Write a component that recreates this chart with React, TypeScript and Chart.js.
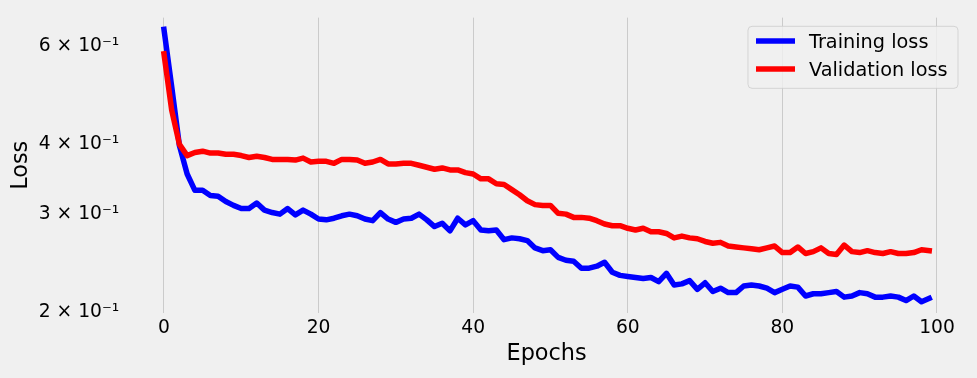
import React, { useEffect, useRef } from "react";
import { Chart, registerables } from "chart.js";

Chart.register(...registerables);

const epochs: number[] = Array.from({ length: 100 }, (_, i) => i);

const trainingLoss: number[] = [
  0.643, 0.508, 0.398, 0.354, 0.331, 0.331, 0.324, 0.323, 0.316, 0.311,
  0.307, 0.307, 0.314, 0.305, 0.302, 0.300, 0.307, 0.299, 0.305, 0.300,
  0.294, 0.293, 0.295, 0.298, 0.300, 0.298, 0.294, 0.292, 0.302, 0.294,
  0.290, 0.294, 0.295, 0.300, 0.293, 0.285, 0.289, 0.280, 0.295, 0.287,
  0.292, 0.281, 0.280, 0.281, 0.270, 0.272, 0.271, 0.269, 0.261, 0.258,
  0.259, 0.251, 0.248, 0.247, 0.240, 0.240, 0.242, 0.246, 0.236, 0.233,
  0.232, 0.231, 0.230, 0.231, 0.227, 0.235, 0.224, 0.225, 0.228, 0.220,
  0.226, 0.218, 0.221, 0.217, 0.217, 0.223, 0.224, 0.223, 0.221, 0.217,
  0.220, 0.223, 0.222, 0.214, 0.216, 0.216, 0.217, 0.218, 0.213, 0.214,
  0.217, 0.216, 0.213, 0.213, 0.214, 0.213, 0.210, 0.214, 0.209, 0.212,
];

const validationLoss: number[] = [
  0.581, 0.461, 0.400, 0.382, 0.387, 0.389, 0.386, 0.386, 0.384, 0.384,
  0.382, 0.379, 0.381, 0.379, 0.376, 0.376, 0.376, 0.375, 0.378, 0.372,
  0.373, 0.373, 0.370, 0.376, 0.376, 0.375, 0.370, 0.372, 0.376, 0.369,
  0.369, 0.370, 0.370, 0.367, 0.364, 0.361, 0.363, 0.360, 0.360, 0.356,
  0.354, 0.347, 0.347, 0.340, 0.339, 0.332, 0.325, 0.317, 0.312, 0.311,
  0.311, 0.301, 0.300, 0.296, 0.296, 0.295, 0.292, 0.288, 0.286, 0.286,
  0.283, 0.281, 0.283, 0.279, 0.279, 0.277, 0.272, 0.274, 0.272, 0.271,
  0.268, 0.266, 0.267, 0.263, 0.262, 0.261, 0.260, 0.259, 0.261, 0.263,
  0.256, 0.256, 0.262, 0.255, 0.257, 0.261, 0.255, 0.254, 0.264, 0.257,
  0.256, 0.258, 0.256, 0.255, 0.257, 0.255, 0.255, 0.256, 0.259, 0.258,
];

const xTicks: number[] = [0, 20, 40, 60, 80, 100];
const yTicks: number[] = [0.2, 0.3, 0.4, 0.6];
const yTickLabels: string[] = ["2 × 10⁻¹", "3 × 10⁻¹", "4 × 10⁻¹", "6 × 10⁻¹"];

const FONT = '"DejaVu Sans", sans-serif';
const TICK_SIZE = 18.7;
const LEGEND_SIZE = 19.3;
const LABEL_SIZE = 22.4;

const legendPlugin = {
  id: "mplLegend",
  afterDatasetsDraw(chart: any) {
    const { ctx, chartArea } = chart;
    const w = 210;
    const h = 62;
    const right = chartArea.right - 9.5;
    const top = chartArea.top + 8.7;
    const left = right - w;
    const r = 4;
    ctx.save();
    ctx.beginPath();
    ctx.moveTo(left + r, top);
    ctx.lineTo(left + w - r, top);
    ctx.arcTo(left + w, top, left + w, top + r, r);
    ctx.lineTo(left + w, top + h - r);
    ctx.arcTo(left + w, top + h, left + w - r, top + h, r);
    ctx.lineTo(left + r, top + h);
    ctx.arcTo(left, top + h, left, top + h - r, r);
    ctx.lineTo(left, top + r);
    ctx.arcTo(left, top, left + r, top, r);
    ctx.closePath();
    ctx.fillStyle = "rgba(240,240,240,0.8)";
    ctx.fill();
    ctx.strokeStyle = "rgba(204,204,204,0.8)";
    ctx.lineWidth = 1;
    ctx.stroke();
    chart.data.datasets.forEach((ds: any, i: number) => {
      const y = top + 14.6 + i * 28;
      ctx.beginPath();
      ctx.moveTo(left + 8, y);
      ctx.lineTo(left + 47, y);
      ctx.strokeStyle = ds.borderColor;
      ctx.lineWidth = 5.5;
      ctx.lineCap = "butt";
      ctx.stroke();
      ctx.fillStyle = "#000";
      ctx.font = `${LEGEND_SIZE}px ${FONT}`;
      ctx.textBaseline = "alphabetic";
      ctx.textAlign = "left";
      ctx.fillText(ds.label, left + 61, y + 6.8);
    });
    ctx.restore();
  },
};

export default function App() {
  const canvasRef = useRef<HTMLCanvasElement | null>(null);

  useEffect(() => {
    document.body.style.margin = "0";
    document.body.style.background = "#f0f0f0";
    const canvas = canvasRef.current;
    if (!canvas) return;
    Chart.defaults.font.family = FONT;
    Chart.defaults.color = "#000";

    const chart = new Chart(canvas, {
      type: "line",
      data: {
        datasets: [
          {
            label: "Training loss",
            data: epochs.map((e, i) => ({ x: e, y: trainingLoss[i] })),
            borderColor: "#0000ff",
            backgroundColor: "#0000ff",
            borderWidth: 5.5,
            pointRadius: 0,
            tension: 0,
            borderJoinStyle: "round",
            borderCapStyle: "square",
            order: 1,
          },
          {
            label: "Validation loss",
            data: epochs.map((e, i) => ({ x: e, y: validationLoss[i] })),
            borderColor: "#ff0000",
            backgroundColor: "#ff0000",
            borderWidth: 5.5,
            pointRadius: 0,
            tension: 0,
            borderJoinStyle: "round",
            borderCapStyle: "square",
            order: 0,
          },
        ],
      },
      options: {
        animation: false,
        responsive: false,
        maintainAspectRatio: false,
        devicePixelRatio: 1,
        layout: { padding: { top: 12, right: 9.5, left: 0, bottom: 0 } },
        plugins: {
          legend: { display: false },
          tooltip: { enabled: false },
        },
        scales: {
          x: {
            type: "linear",
            min: -4.95,
            max: 103.95,
            border: { display: false },
            grid: { color: "#cbcbcb", lineWidth: 1, drawTicks: false, tickLength: 0 },
            afterBuildTicks: (axis: any) => {
              axis.ticks = xTicks.map((v) => ({ value: v }));
            },
            afterFit: (scale: any) => {
              scale.height = 65;
            },
            ticks: {
              padding: 4.3,
              maxRotation: 0,
              autoSkip: false,
              color: "#000",
              font: { size: TICK_SIZE, family: FONT },
              callback: (v: any) => String(v),
            },
            title: {
              display: true,
              text: "Epochs",
              color: "#000",
              font: { size: LABEL_SIZE, family: FONT },
              padding: { top: 0, bottom: 10.6 },
            },
          },
          y: {
            type: "logarithmic",
            min: 0.1995,
            max: 0.675,
            border: { display: false },
            grid: { display: false, drawTicks: false, tickLength: 0 },
            afterBuildTicks: (axis: any) => {
              axis.ticks = yTicks.map((v) => ({ value: v }));
            },
            afterFit: (scale: any) => {
              scale.width = 125.7;
            },
            ticks: {
              padding: 6.4,
              autoSkip: false,
              color: "#000",
              font: { size: TICK_SIZE, family: FONT },
              callback: (v: any) => {
                const idx = yTicks.findIndex((t) => Math.abs(t - Number(v)) < 1e-9);
                return idx >= 0 ? yTickLabels[idx] : "";
              },
            },
            title: {
              display: true,
              text: "Loss",
              color: "#000",
              font: { size: LABEL_SIZE, family: FONT },
              padding: { top: 7.6, bottom: 0 },
            },
          },
        },
      },
      plugins: [legendPlugin],
    } as any);

    return () => {
      chart.destroy();
    };
  }, []);

  return (
    <div
      style={{
        position: "absolute",
        left: 0,
        top: 0,
        width: 977,
        height: 378,
        background: "#f0f0f0",
      }}
    >
      <canvas
        ref={canvasRef}
        width={977}
        height={378}
        style={{ display: "block", width: 977, height: 378 }}
      />
    </div>
  );
}
